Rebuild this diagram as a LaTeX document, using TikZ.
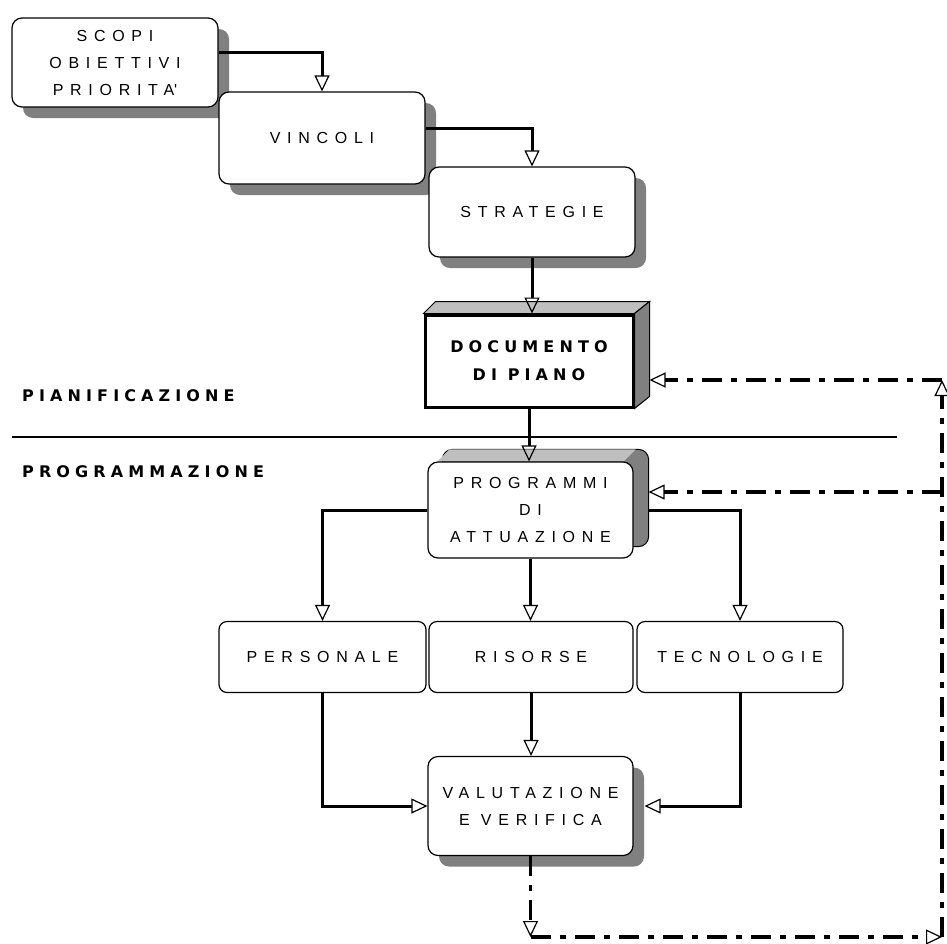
\documentclass[tikz,border=0pt]{standalone}
\usepackage{fontspec}
\setmainfont{Liberation Sans}
\newfontfamily\lblfont[LetterSpace=42]{Liberation Sans}
\newfontfamily\hdfont[LetterSpace=32]{DejaVu Sans}
\usetikzlibrary{arrows.meta,shadows,backgrounds}

\begin{document}
\begin{tikzpicture}[
    x=1pt, y=-1pt,
    every node/.style={inner sep=0pt, align=center, font=\lblfont\fontsize{16}{27}\selectfont},
    box/.style={draw, rounded corners=10pt, fill=white, line width=1.2pt},
    smallbox/.style={box, rounded corners=8pt, minimum height=71pt},
    shbox/.style={box, drop shadow={shadow xshift=11pt, shadow yshift=-11pt, fill=black!50, opacity=1}},
    conn/.style={line width=3pt, -{Triangle[open, length=16pt, width=15pt, line width=1.2pt]}},
    fb/.style={line width=3.5pt, dash pattern=on 20pt off 9pt on 6pt off 9pt, -{Triangle[open, length=16pt, width=15pt, line width=1.2pt]}},
    head/.style={font=\hdfont\bfseries\fontsize{16}{20}\selectfont, anchor=west}
]
\useasboundingbox (0,0) rectangle (947,943);

% ----- pianificazione -----
\node[shbox, minimum width=206pt, minimum height=89pt] (scopi) at (115,62.5) {SCOPI\\OBIETTIVI\\PRIORITA\textquotesingle};
\node[shbox, minimum width=206pt, minimum height=92pt] (vincoli) at (322,138) {VINCOLI};
\node[shbox, minimum width=206pt, minimum height=90pt] (strategie) at (532,212) {STRATEGIE};
\node[draw, fill=white, line width=3pt, minimum width=208pt, minimum height=92pt,
      font=\hdfont\bfseries\fontsize{16}{28}\selectfont] (documento) at (529,361) {DOCUMENTO\\DI PIANO};

% ----- programmazione -----
\node[box, minimum width=205pt, minimum height=96pt] (programmi) at (530.5,510) {PROGRAMMI\\DI\\ATTUAZIONE};
\node[smallbox, minimum width=207pt] (personale) at (322.5,657) {PERSONALE};
\node[smallbox, minimum width=204pt] (risorse) at (531,657) {RISORSE};
\node[smallbox, minimum width=206pt] (tecnologie) at (740,657) {TECNOLOGIE};
\node[shbox, minimum width=205pt, minimum height=99pt] (valutazione) at (530.5,806) {VALUTAZIONE\\E VERIFICA};

% ----- sezioni -----
\node[head] (pian) at (22,396) {PIANIFICAZIONE};
\node[head] (progr) at (22,472) {PROGRAMMAZIONE};
\coordinate (sepl) at (12,437);
\coordinate (sepr) at (897,437);
\draw[line width=1.5pt] (sepl) -- (sepr);

% ----- facce 3d -----
\begin{scope}[on background layer]
  \filldraw[fill=black!25, line width=1pt] (documento.north west) -- ++(12,-12) -- ([shift={(15,-12)}]documento.north east) -- (documento.north east) -- cycle;
  \filldraw[fill=black!50, line width=1pt] (documento.north east) -- ++(15,-12) -- ([shift={(15,-12)}]documento.south east) -- (documento.south east) -- cycle;
  \filldraw[fill=black!50, line width=1pt, rounded corners=10pt] ([shift={(15,-12)}]programmi.south west) rectangle ([shift={(15,-12)}]programmi.north east);
  \fill[black!25] ([xshift=10pt]programmi.north west) -- ++(12,-12) -- ([shift={(2,-12)}]programmi.north east) -- ([xshift=-10pt]programmi.north east) -- cycle;
\end{scope}

% ----- frecce -----
\draw[conn] ([yshift=10pt]scopi.east) -| (vincoli.north);
\draw[conn] ([yshift=10pt]vincoli.east) -| (strategie.north);
\draw[conn] (strategie.south) -- (strategie.south |- documento.north);
\draw[conn] (documento.south) -- (documento.south |- programmi.north);
\draw[conn] (programmi.west) -| (personale.north);
\draw[conn] (programmi.south) -- (programmi.south |- risorse.north);
\coordinate (progface) at ([xshift=15pt]programmi.east);
\draw[conn] (progface) -| (tecnologie.north);
\draw[conn] (personale.south) |- (valutazione.west);
\draw[conn] (risorse.south) -- (risorse.south |- valutazione.north);
\coordinate (valshadow) at ([xshift=11pt]valutazione.east);
\draw[conn] (tecnologie.south) |- (valshadow);

% ----- retroazione -----
\coordinate (fbbl) at (valutazione.south |- 0,937);
\coordinate (fbbr) at (942,937);
\coordinate (fbtr) at (942,380);
\coordinate (fbmr) at (942,492);
\coordinate (docface) at ([xshift=15pt]documento.east);
\draw[fb] (valutazione.south) -- (fbbl);
\draw[fb] (fbbl) -- (fbbr);
\draw[fb] (fbbr) -- (fbtr);
\draw[fb] (fbtr) -- (docface |- fbtr);
\draw[fb] (fbmr) -- (progface |- fbmr);

\end{tikzpicture}
\end{document}
